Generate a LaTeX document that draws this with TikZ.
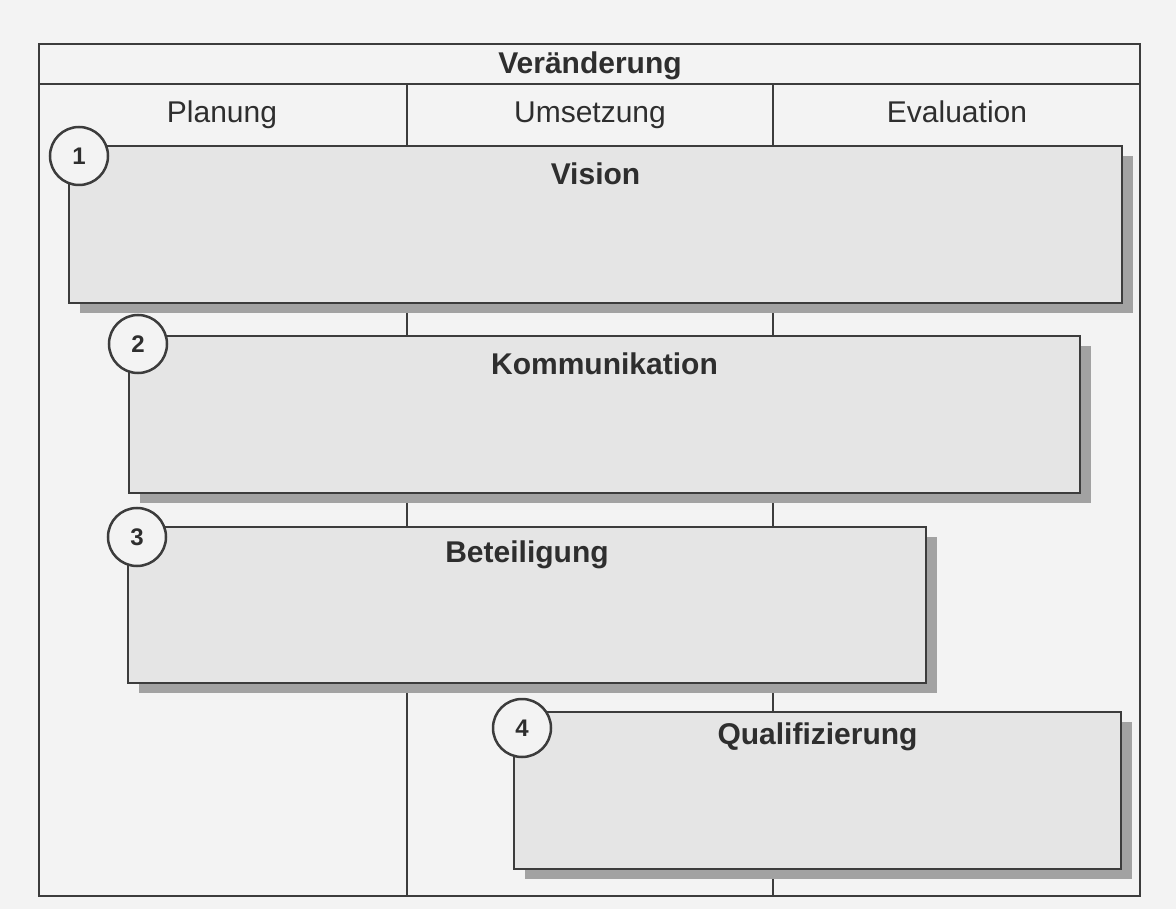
\documentclass[tikz,border=0pt]{standalone}
\usepackage{fontspec}
\setmainfont{Liberation Sans}
\usetikzlibrary{shadows}
\definecolor{bg}{HTML}{F3F3F3}
\definecolor{ln}{HTML}{3C3C3C}
\definecolor{boxfill}{HTML}{E5E5E5}
\definecolor{shd}{HTML}{A2A2A2}
\definecolor{txt}{HTML}{2E2E2E}
\tikzset{
  frameline/.style={draw=ln, line width=1.8pt},
  phasebox/.style={rectangle, draw=ln, line width=1.8pt, fill=boxfill, inner sep=0pt,
    general shadow={fill=shd, shadow xshift=11pt, shadow yshift=-10pt}},
  numcirc/.style={circle, draw=ln, line width=2.5pt, fill=bg, minimum size=58pt, inner sep=0pt,
    font=\fontsize{24}{26}\selectfont\bfseries, text=txt},
  headtxt/.style={font=\fontsize{30}{34}\selectfont, text=txt, inner sep=0pt, anchor=base},
  titletxt/.style={font=\fontsize{30}{34}\selectfont\bfseries, text=txt, inner sep=0pt, anchor=base},
}
\begin{document}
\begin{tikzpicture}[x=1pt,y=-1pt]
\fill[bg] (0,0) rectangle (1176,909);
\useasboundingbox (0,0) rectangle (1176,909);
% frame and columns
\draw[frameline] (39,44) rectangle (1140,896);
\draw[frameline] (39,84) -- (1140,84);
\draw[frameline] (407,84) -- (407,896);
\draw[frameline] (773,84) -- (773,896);
% header texts
\node[titletxt] (ver) at (590,74) {Veränderung};
\node[headtxt] (plan) at (222,123) {Planung};
\node[headtxt] (ums) at (590,123) {Umsetzung};
\node[headtxt] (eval) at (957,123) {Evaluation};
% boxes
\node[phasebox, minimum width=1053pt, minimum height=157pt] (b1) at (595.5,224.5) {};
\node[phasebox, minimum width=951pt, minimum height=157pt] (b2) at (604.5,414.5) {};
\node[phasebox, minimum width=798pt, minimum height=156pt] (b3) at (527,605) {};
\node[phasebox, minimum width=607pt, minimum height=157pt] (b4) at (817.5,790.5) {};
% titles
\node[titletxt] (t1) at ([yshift=-39pt]b1.north) {Vision};
\node[titletxt] (t2) at ([yshift=-39pt]b2.north) {Kommunikation};
\node[titletxt] (t3) at ([yshift=-36pt]b3.north) {Beteiligung};
\node[titletxt] (t4) at ([yshift=-33pt]b4.north) {Qualifizierung};
% number circles
\node[numcirc] (c1) at (79,156) {1};
\node[numcirc] (c2) at (138,344) {2};
\node[numcirc] (c3) at (137,537) {3};
\node[numcirc] (c4) at (522,728) {4};
\end{tikzpicture}
\end{document}
